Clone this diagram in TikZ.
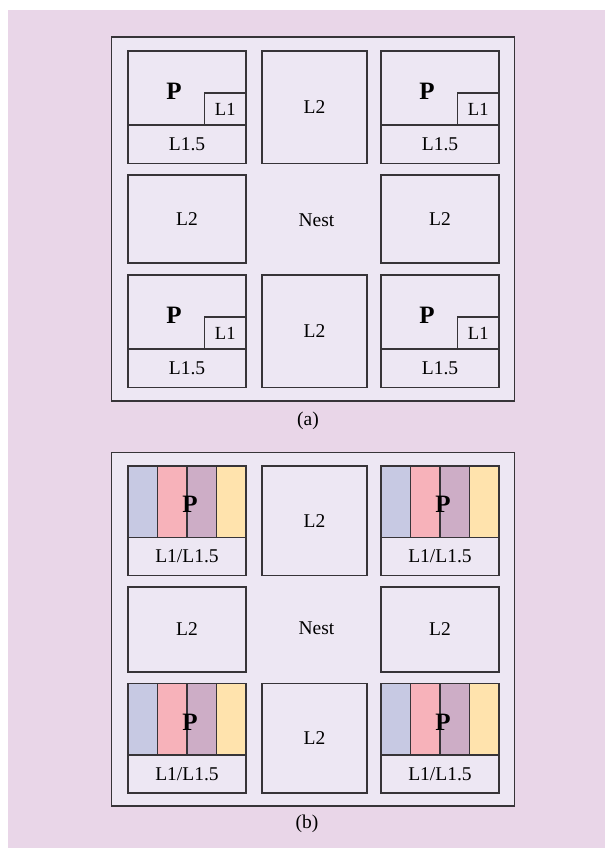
\documentclass[tikz,border=0pt]{standalone}
\usepackage{fontspec}
\setmainfont{Liberation Serif}
\usetikzlibrary{positioning}

\definecolor{bgpink}{RGB}{233,214,232}
\definecolor{chipfill}{RGB}{237,231,243}
\definecolor{edge}{RGB}{55,52,56}
\definecolor{stripA}{RGB}{199,201,227}
\definecolor{stripB}{RGB}{247,178,186}
\definecolor{stripC}{RGB}{205,173,198}
\definecolor{stripD}{RGB}{255,227,173}

\begin{document}
\begin{tikzpicture}[x=1pt, y=-1pt,
    panel/.style={draw=edge, line width=1.6pt, fill=chipfill, anchor=north west, inner sep=0pt, outer sep=0pt},
    tile/.style={draw=edge, line width=1.2pt, fill=chipfill, anchor=north west, inner sep=0pt, outer sep=0pt, font=\fontsize{19.5}{22}\selectfont},
    l1box/.style={tile, anchor=south east, minimum width=41.5pt, minimum height=32pt, font=\fontsize{18.5}{21}\selectfont},
    strip/.style={draw=edge, line width=1.2pt, anchor=north west, inner sep=0pt, outer sep=0pt, minimum width=29.5pt, minimum height=71.5pt},
    proc/.style={font=\fontsize{25}{28}\selectfont\bfseries, inner sep=0pt},
    note/.style={font=\fontsize{19.5}{22}\selectfont, inner sep=0pt},
  ]
    \useasboundingbox (0,0) rectangle (605,848);
    \fill[bgpink] (8,10) rectangle (605,848);

    % (a) separate L1 per core
    \node[panel, minimum width=403pt, minimum height=364pt] (chipA) at (111.5,37) {};

    \node[tile, minimum width=118pt, minimum height=74pt] (pa1) at (128,51) {};
    \node[tile, minimum width=118pt, minimum height=38.5pt] (ca1) at (pa1.south west) {L1.5};
    \node[l1box] (la1) at (pa1.south east) {L1};
    \node[proc] at ([xshift=46pt, yshift=-40pt]pa1.north west) {P};

    \node[tile, minimum width=105pt, minimum height=112.5pt] (ma1) at (262,51) {L2};

    \node[tile, minimum width=118pt, minimum height=74pt] (pa2) at (381,51) {};
    \node[tile, minimum width=118pt, minimum height=38.5pt] (ca2) at (pa2.south west) {L1.5};
    \node[l1box] (la2) at (pa2.south east) {L1};
    \node[proc] at ([xshift=46pt, yshift=-40pt]pa2.north west) {P};

    \node[tile, minimum width=118pt, minimum height=88pt] (sa1) at (128,175) {L2};
    \node[note] (nestA) at (316.5,220) {Nest};
    \node[tile, minimum width=118pt, minimum height=88pt] (sa2) at (381,175) {L2};

    \node[tile, minimum width=118pt, minimum height=74pt] (pa3) at (128,275) {};
    \node[tile, minimum width=118pt, minimum height=38.5pt] (ca3) at (pa3.south west) {L1.5};
    \node[l1box] (la3) at (pa3.south east) {L1};
    \node[proc] at ([xshift=46pt, yshift=-40pt]pa3.north west) {P};

    \node[tile, minimum width=105pt, minimum height=112.5pt] (ma2) at (262,275) {L2};

    \node[tile, minimum width=118pt, minimum height=74pt] (pa4) at (381,275) {};
    \node[tile, minimum width=118pt, minimum height=38.5pt] (ca4) at (pa4.south west) {L1.5};
    \node[l1box] (la4) at (pa4.south east) {L1};
    \node[proc] at ([xshift=46pt, yshift=-40pt]pa4.north west) {P};

    \node[note] (capA) at (308,421) {(a)};

    % (b) shared L1/L1.5
    \node[panel, minimum width=403pt, minimum height=353.5pt] (chipB) at (111.5,452.5) {};

    \node[strip, fill=stripA] (pb1a) at (128,466) {};
    \node[strip, fill=stripB, right=0pt of pb1a] (pb1b) {};
    \node[strip, fill=stripC, right=0pt of pb1b] (pb1c) {};
    \node[strip, fill=stripD, right=0pt of pb1c] (pb1d) {};
    \node[tile, minimum width=118pt, minimum height=38pt] (cb1) at (pb1a.south west) {L1/L1.5};
    \node[proc] at ([xshift=3pt, yshift=-3pt]pb1b.east) {P};

    \node[tile, minimum width=105pt, minimum height=109.5pt] (mb1) at (262,466) {L2};

    \node[strip, fill=stripA] (pb2a) at (381,466) {};
    \node[strip, fill=stripB, right=0pt of pb2a] (pb2b) {};
    \node[strip, fill=stripC, right=0pt of pb2b] (pb2c) {};
    \node[strip, fill=stripD, right=0pt of pb2c] (pb2d) {};
    \node[tile, minimum width=118pt, minimum height=38pt] (cb2) at (pb2a.south west) {L1/L1.5};
    \node[proc] at ([xshift=3pt, yshift=-3pt]pb2b.east) {P};

    \node[tile, minimum width=118pt, minimum height=85pt] (sb1) at (128,587) {L2};
    \node[note] (nestB) at (316.5,628) {Nest};
    \node[tile, minimum width=118pt, minimum height=85pt] (sb2) at (381,587) {L2};

    \node[strip, fill=stripA] (pb3a) at (128,683.5) {};
    \node[strip, fill=stripB, right=0pt of pb3a] (pb3b) {};
    \node[strip, fill=stripC, right=0pt of pb3b] (pb3c) {};
    \node[strip, fill=stripD, right=0pt of pb3c] (pb3d) {};
    \node[tile, minimum width=118pt, minimum height=38pt] (cb3) at (pb3a.south west) {L1/L1.5};
    \node[proc] at ([xshift=3pt, yshift=-3pt]pb3b.east) {P};

    \node[tile, minimum width=105pt, minimum height=109.5pt] (mb2) at (262,683.5) {L2};

    \node[strip, fill=stripA] (pb4a) at (381,683.5) {};
    \node[strip, fill=stripB, right=0pt of pb4a] (pb4b) {};
    \node[strip, fill=stripC, right=0pt of pb4b] (pb4c) {};
    \node[strip, fill=stripD, right=0pt of pb4c] (pb4d) {};
    \node[tile, minimum width=118pt, minimum height=38pt] (cb4) at (pb4a.south west) {L1/L1.5};
    \node[proc] at ([xshift=3pt, yshift=-3pt]pb4b.east) {P};

    \node[note] (capB) at (307,824) {(b)};
  \end{tikzpicture}
\end{document}
